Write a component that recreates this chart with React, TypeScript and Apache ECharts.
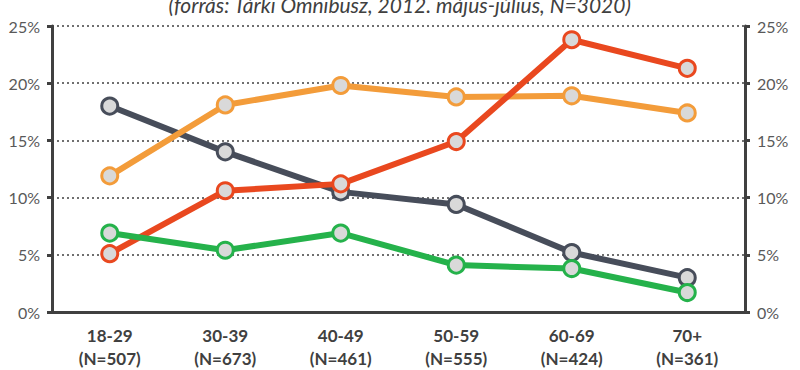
import React, { useEffect, useRef } from "react";
import * as echarts from "echarts";

const categories = ["18-29\n(N=507)", "30-39\n(N=673)", "40-49\n(N=461)", "50-59\n(N=555)", "60-69\n(N=424)", "70+\n(N=361)"];
const seriesGray = [18.0, 14.0, 10.5, 9.4, 5.2, 3.0];
const seriesOrange = [11.9, 18.1, 19.8, 18.8, 18.9, 17.4];
const seriesRed = [5.1, 10.6, 11.2, 14.9, 23.8, 21.3];
const seriesGreen = [6.9, 5.4, 6.9, 4.1, 3.8, 1.7];
const title = "(forrás: Tárki Omnibusz, 2012. május-július, N=3020)";

const FONT = "Lato, 'Open Sans', sans-serif";

function mkSeries(name: string, data: number[], color: string) {
  return {
    name,
    type: "line",
    data,
    yAxisIndex: 0,
    symbol: "circle",
    symbolSize: 16,
    lineStyle: { color, width: 6 },
    itemStyle: { color: "#d9d9d9", borderColor: color, borderWidth: 3 },
    z: 3,
  };
}

export default function App() {
  const ref = useRef<HTMLDivElement>(null);
  useEffect(() => {
    if (!ref.current) return;
    const chart = echarts.init(ref.current, undefined, { renderer: "svg" });
    const axisLabelY = { formatter: "{value}%", color: "#595959", fontSize: 16, fontFamily: FONT, margin: 12 };
    chart.setOption({
      animation: false,
      textStyle: { fontFamily: FONT },
      grid: { left: 52, right: 55, top: 26, bottom: 51, containLabel: false },
      graphic: [
        {
          type: "text",
          left: "center",
          top: -6,
          style: {
            text: title,
            fontFamily: FONT,
            fontStyle: "italic",
            fontSize: 21,
            fill: "#404040",
          },
        },
      ],
      xAxis: {
        type: "category",
        data: categories,
        boundaryGap: true,
        axisLine: { lineStyle: { color: "#404040", width: 3 } },
        axisTick: { show: false },
        axisLabel: {
          color: "#404040",
          fontSize: 17,
          fontWeight: "bold",
          fontFamily: FONT,
          lineHeight: 23,
          margin: 12,
          interval: 0,
        },
      },
      yAxis: [
        {
          type: "value",
          position: "left",
          min: 0,
          max: 25,
          interval: 5,
          axisLine: { show: true, lineStyle: { color: "#404040", width: 3 } },
          axisTick: { show: true, length: 5, lineStyle: { color: "#404040", width: 3 } },
          axisLabel: axisLabelY,
          splitLine: { show: true, lineStyle: { color: "#404040", type: [2, 3], width: 1.5 } },
        },
        {
          type: "value",
          position: "right",
          min: 0,
          max: 25,
          interval: 5,
          axisLine: { show: true, lineStyle: { color: "#404040", width: 3 } },
          axisTick: { show: true, length: 5, lineStyle: { color: "#404040", width: 3 } },
          axisLabel: axisLabelY,
          splitLine: { show: false },
        },
      ],
      series: [
        mkSeries("Szürke", seriesGray, "#474d5a"),
        mkSeries("Narancs", seriesOrange, "#f39c3a"),
        mkSeries("Piros", seriesRed, "#e9481f"),
        mkSeries("Zöld", seriesGreen, "#25b24b"),
      ],
    });
    return () => chart.dispose();
  }, []);
  return <div ref={ref} style={{ width: 800, height: 370, position: "absolute", left: 0, top: 0 }} />;
}
